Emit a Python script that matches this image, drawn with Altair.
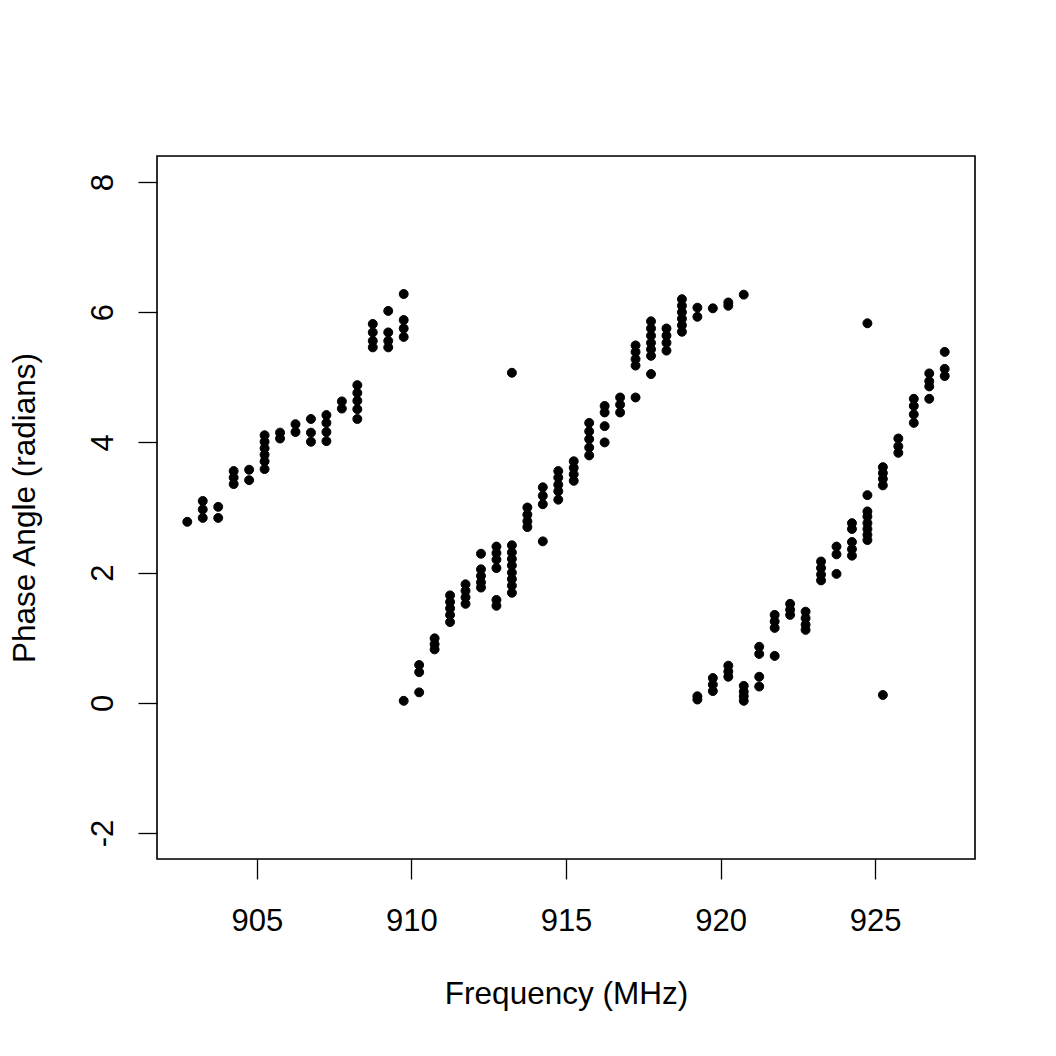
import altair as alt
import pandas as pd

# Channel frequencies (MHz)
frequencies = [902.75 + 0.5 * i for i in range(50)]

# Phase readings (radians) per channel
phases = [
    [2.78],
    [3.10, 2.97, 2.84],
    [3.01, 2.84],
    [3.56, 3.46, 3.36],
    [3.58, 3.42],
    [4.11, 4.01, 3.91, 3.81, 3.71, 3.59],
    [4.15, 4.06],
    [4.28, 4.16],
    [4.36, 4.15, 4.01],
    [4.42, 4.30, 4.16, 4.02],
    [4.63, 4.52],
    [4.88, 4.76, 4.64, 4.51, 4.36],
    [5.82, 5.69, 5.56, 5.46],
    [6.02, 5.69, 5.56, 5.46],
    [6.28, 5.88, 5.75, 5.62, 0.03],
    [0.58, 0.47, 0.16],
    [0.99, 0.90, 0.82],
    [1.65, 1.55, 1.45, 1.35, 1.24],
    [1.82, 1.72, 1.62, 1.52],
    [2.29, 2.05, 1.95, 1.85, 1.77],
    [2.40, 2.30, 2.20, 2.07, 1.58, 1.49],
    [5.07, 2.42, 2.31, 2.21, 2.11, 2.00, 1.90, 1.80, 1.69],
    [3.00, 2.89, 2.79, 2.70],
    [3.31, 3.18, 3.05, 2.48],
    [3.56, 3.46, 3.35, 3.25, 3.12],
    [3.71, 3.61, 3.51, 3.41],
    [4.30, 4.17, 4.05, 3.92, 3.80],
    [4.56, 4.46, 4.25, 4.00],
    [4.69, 4.58, 4.46],
    [5.49, 5.39, 5.28, 5.18, 4.69],
    [5.86, 5.75, 5.64, 5.53, 5.43, 5.33, 5.05],
    [5.75, 5.64, 5.53, 5.41],
    [6.20, 6.10, 6.00, 5.90, 5.80, 5.70],
    [6.07, 5.93, 0.10, 0.05],
    [6.06, 0.38, 0.28, 0.18],
    [6.15, 6.10, 0.57, 0.48, 0.40],
    [6.27, 0.26, 0.17, 0.10, 0.03],
    [0.86, 0.75, 0.40, 0.25],
    [1.35, 1.25, 1.15, 0.72],
    [1.52, 1.43, 1.35],
    [1.40, 1.30, 1.20, 1.12],
    [2.17, 2.07, 1.97, 1.88],
    [2.40, 2.28, 1.98],
    [2.76, 2.67, 2.47, 2.36, 2.26],
    [5.83, 3.19, 2.94, 2.86, 2.76, 2.67, 2.58, 2.50],
    [3.62, 3.53, 3.44, 3.34, 0.12],
    [4.06, 3.94, 3.84],
    [4.67, 4.56, 4.43, 4.30],
    [5.06, 4.94, 4.86, 4.67],
    [5.39, 5.13, 5.02],
]

x_ticks = [905, 910, 915, 920, 925]
y_ticks = [-2, 0, 2, 4, 6, 8]

rows = []
for f, vals in zip(frequencies, phases):
    for v in vals:
        rows.append({"freq": f, "phase": v})
df = pd.DataFrame(rows)

FONT = "Liberation Sans"
W, H = 818, 703

points = (
    alt.Chart(df)
    .mark_circle(size=80, color="black", opacity=1, stroke="black", strokeWidth=1)
    .encode(
        x=alt.X(
            "freq:Q",
            scale=alt.Scale(domain=[901.77, 928.23], nice=False, zero=False),
            axis=alt.Axis(
                values=x_ticks,
                title="Frequency (MHz)",
                grid=False,
                domain=False,
                tickColor="black",
                tickWidth=1.3,
                tickSize=20,
                labelFont=FONT,
                labelFontSize=31,
                labelColor="black",
                labelBaseline="alphabetic",
                labelPadding=51,
                labelFlush=False,
                titleFont=FONT,
                titleFontSize=31.5,
                titleFontWeight="normal",
                titleColor="black",
                titleX=W / 2,
                titleY=144,
                titleAlign="center",
                titleBaseline="alphabetic",
            ),
        ),
        y=alt.Y(
            "phase:Q",
            scale=alt.Scale(domain=[-2.4, 8.4], nice=False, zero=False),
            axis=alt.Axis(
                values=y_ticks,
                labelExpr="'' + datum.value",
                title="Phase Angle (radians)",
                grid=False,
                domain=False,
                tickColor="black",
                tickWidth=1.3,
                tickSize=19,
                labelFont=FONT,
                labelFontSize=31,
                labelColor="black",
                labelAngle=270,
                labelAlign="center",
                labelBaseline="alphabetic",
                labelPadding=26,
                labelFlush=False,
                titleFont=FONT,
                titleFontSize=31.5,
                titleFontWeight="normal",
                titleColor="black",
                titleAngle=270,
                titleX=-123,
                titleY=H / 2,
                titleAlign="center",
                titleBaseline="alphabetic",
            ),
        ),
    )
)

frame = (
    alt.Chart(pd.DataFrame({"k": [0]}))
    .mark_rect(fillOpacity=0, stroke="black", strokeWidth=1.6)
    .encode(
        x=alt.value(0),
        x2=alt.value(W),
        y=alt.value(0),
        y2=alt.value(H),
    )
)

chart = (
    alt.layer(points, frame)
    .properties(
        width=W,
        height=H,
        autosize=alt.AutoSizeParams(type="none"),
        padding={"left": 149, "top": 148, "right": 73, "bottom": 189},
    )
    .configure_view(stroke=None, fill="white")
    .configure(background="white")
)

chart.save("out.html", embed_options={"renderer": "svg", "actions": False})
